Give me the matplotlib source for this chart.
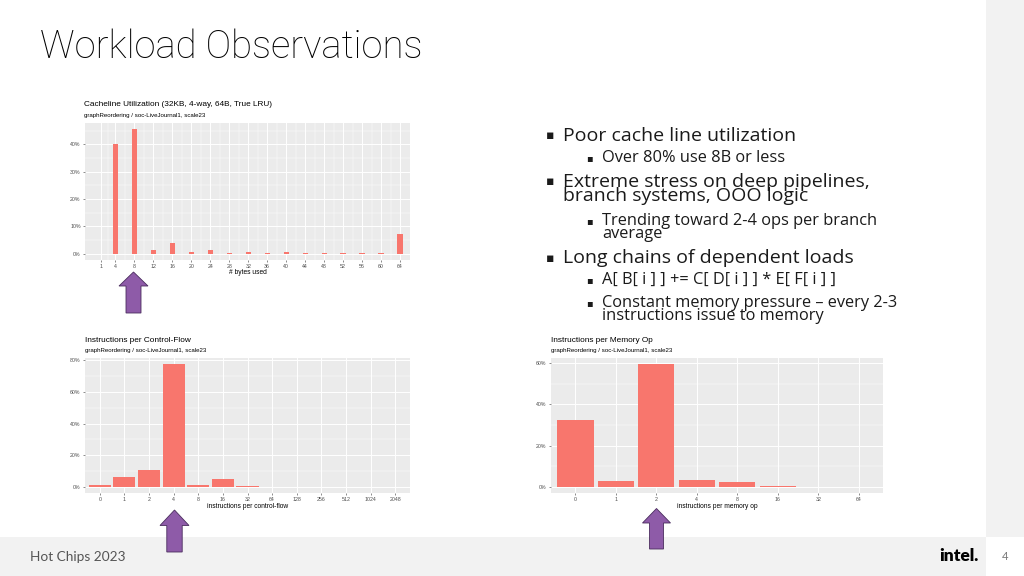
import matplotlib
matplotlib.use("Agg")
import matplotlib.pyplot as plt
from matplotlib.patches import FancyArrow, Rectangle
from matplotlib.transforms import Affine2D
from matplotlib.ticker import FixedLocator

# ---------------- data ----------------
bytes_used = [1, 4, 8, 12, 16, 20, 24, 28, 32, 36, 40, 44, 48, 52, 56, 60, 64]
bytes_pct = [0.0, 40.2, 45.5, 1.2, 3.8, 0.6, 1.2, 0.4, 0.7, 0.3, 0.5, 0.3,
             0.3, 0.2, 0.4, 0.2, 7.3]

cf_labels = ['0', '1', '2', '4', '8', '16', '32', '64', '128', '256', '512',
             '1024', '2048']
cf_pct = [1.2, 6.0, 10.5, 77.5, 1.0, 4.7, 0.5, 0.05, 0, 0, 0, 0, 0]

mem_labels = ['0', '1', '2', '4', '8', '16', '32', '64']
mem_pct = [32.2, 3.0, 59.5, 3.5, 2.2, 0.4, 0.02, 0]

bytes_yticks = [0, 10, 20, 30, 40]
cf_yticks = [0, 20, 40, 60, 80]
mem_yticks = [0, 20, 40, 60]

subtitle = "graphReordering / soc-LiveJournal1, scale23"

W, H = 1024, 576
fig = plt.figure(figsize=(W / 100, H / 100), dpi=100)
fig.patch.set_facecolor('white')

px = Affine2D().scale(1 / W, 1 / H) + fig.transFigure


def fx(x):
    return x / W


def fy(y):
    return 1 - y / H


# backgrounds
fig.patches.append(Rectangle((986, H - 537), W - 986, 537, transform=px,
                             facecolor='#F2F2F2', edgecolor='none', zorder=0))
fig.patches.append(Rectangle((0, 0), 986, H - 537, transform=px,
                             facecolor='#F2F2F2', edgecolor='none', zorder=0))

GG = ['Liberation Sans', 'DejaVu Sans']
BAR = '#F8766D'


def gg_chart(rect, xpos, labels, vals, yticks, minor, width, xlim, title,
             xlabel, title_xy, sub_xy, xlabel_y, xminor=None):
    x0, y0, x1, y1 = rect
    ax = fig.add_axes([fx(x0), fy(y1), fx(x1) - fx(x0), (y1 - y0) / H])
    ax.set_facecolor('#EBEBEB')
    ax.bar(xpos, vals, width=width, color=BAR, zorder=3)
    m = max(vals)
    ax.set_ylim(-0.05 * m, 1.05 * m)
    ax.set_xlim(*xlim)
    ax.set_xticks(xpos)
    ax.set_xticklabels(labels)
    ax.set_yticks(yticks)
    ax.set_yticklabels([f"{t}%" for t in yticks])
    ax.yaxis.set_minor_locator(FixedLocator(minor))
    if xminor is not None:
        ax.xaxis.set_minor_locator(FixedLocator(xminor))
        ax.grid(which='minor', axis='x', color='white', lw=0.35, zorder=0)
    ax.grid(which='major', color='white', lw=0.7, zorder=0)
    ax.grid(which='minor', axis='y', color='white', lw=0.35, zorder=0)
    ax.set_axisbelow(True)
    for s in ax.spines.values():
        s.set_visible(False)
    ax.tick_params(which='major', length=1.6, width=0.4, color='#333333',
                   pad=1.5, labelsize=3.8, labelcolor='#4D4D4D')
    ax.tick_params(which='minor', length=0)
    for lab in ax.get_xticklabels() + ax.get_yticklabels():
        lab.set_family(GG)
    fig.text(fx(title_xy[0]), fy(title_xy[1]), title, family=GG, fontsize=5.95,
             color='black', va='center', ha='left')
    fig.text(fx(sub_xy[0]), fy(sub_xy[1]), subtitle, family=GG, fontsize=4.4,
             color='black', va='center', ha='left')
    fig.text((fx(x0) + fx(x1)) / 2, fy(xlabel_y), xlabel, family=GG,
             fontsize=4.8, color='black', va='center', ha='center')
    return ax


bytes_minor = [(a + b) / 2 for a, b in zip(bytes_used[:-1], bytes_used[1:])]
gg_chart((85, 123, 410, 260), bytes_used, [str(b) for b in bytes_used],
         bytes_pct, bytes_yticks, [5, 15, 25, 35, 45], 1.1, (-2.4, 66.1),
         "Cacheline Utilization (32KB, 4-way, 64B, True LRU)", "# bytes used",
         (84, 105), (84, 116), 273, xminor=bytes_minor)
gg_chart((85, 358, 410, 493), list(range(len(cf_labels))), cf_labels, cf_pct,
         cf_yticks, [10, 30, 50, 70], 0.9, (-0.6, len(cf_labels) - 0.4),
         "Instructions per Control-Flow", "instructions per control-flow",
         (85, 340), (85, 350.5), 507)
gg_chart((551, 358, 883, 493), list(range(len(mem_labels))), mem_labels,
         mem_pct, mem_yticks, [10, 30, 50], 0.9, (-0.6, len(mem_labels) - 0.4),
         "Instructions per Memory Op", "instructions per memory op",
         (551, 340), (551, 350.5), 507)

# arrows (tip x, tip y, bottom y, head base y, head width, shaft width)
arrows = [(133.5, 272, 313, 286, 29, 15),
          (174.5, 510, 552, 525.5, 29, 15.4),
          (656.5, 508.5, 549, 523, 28, 14)]
for tx, ty, by, hb, hw, sw in arrows:
    fig.patches.append(FancyArrow(tx, H - by, 0, by - ty, width=sw,
                                  head_width=hw, head_length=hb - ty,
                                  length_includes_head=True, transform=px,
                                  facecolor='#8E5BA8', edgecolor='#4A2D5E',
                                  lw=0.6, zorder=5))

# slide title
fig.text(fx(40), fy(47), "Workload Observations",
         family=['Roboto', 'DejaVu Sans'], fontweight='light', fontsize=27.5,
         color='black', va='center', ha='left')

# bullets: (level, center y of block, text, line gap px)
TXT = ['Open Sans', 'DejaVu Sans']
blocks = [
    (0, 135.7, "Poor cache line utilization", 15),
    (1, 158, "Over 80% use 8B or less", 12.5),
    (0, 189.2, "Extreme stress on deep pipelines,\nbranch systems, OOO logic", 15),
    (1, 227.2, "Trending toward 2-4 ops per branch\naverage", 12.3),
    (0, 258, "Long chains of dependent loads", 15),
    (1, 280, "A[ B[ i ] ] += C[ D[ i ] ] * E[ F[ i ] ]", 12.5),
    (1, 309.5, "Constant memory pressure \u2013 every 2-3\ninstructions issue to memory", 13),
]
for lvl, y, s, gap in blocks:
    if lvl == 0:
        tx, bx, fs, bfs = 563, 546, 14.0, 9
    else:
        tx, bx, fs, bfs = 602, 586.5, 11.8, 7
    nlines = s.count("\n") + 1
    fpx = fs * 100 / 72
    fig.text(fx(tx), fy(y), s, family=TXT, fontsize=fs, color='#1A1A1A',
             va='center', ha='left', linespacing=gap / (fpx * 1.02))
    by = y - (nlines - 1) * gap / 2
    fig.text(fx(bx), fy(by), "\u25aa", family=['DejaVu Sans'], fontsize=bfs,
             color='#1A1A1A', va='center', ha='left')

# footer
fig.text(fx(30), fy(557), "Hot Chips 2023", family=['Lato', 'DejaVu Sans'],
         fontsize=9.8, color='#555555', va='center', ha='left')
fig.text(fx(978), fy(556), "intel.", family=['Lato', 'DejaVu Sans'],
         fontsize=12.5, color='black', va='center', ha='right',
         fontweight='heavy')
fig.text(fx(1005), fy(556), "4", family=['Lato', 'DejaVu Sans'], fontsize=8,
         color='#777777', va='center', ha='center')

fig.savefig("out.png", dpi=100)
